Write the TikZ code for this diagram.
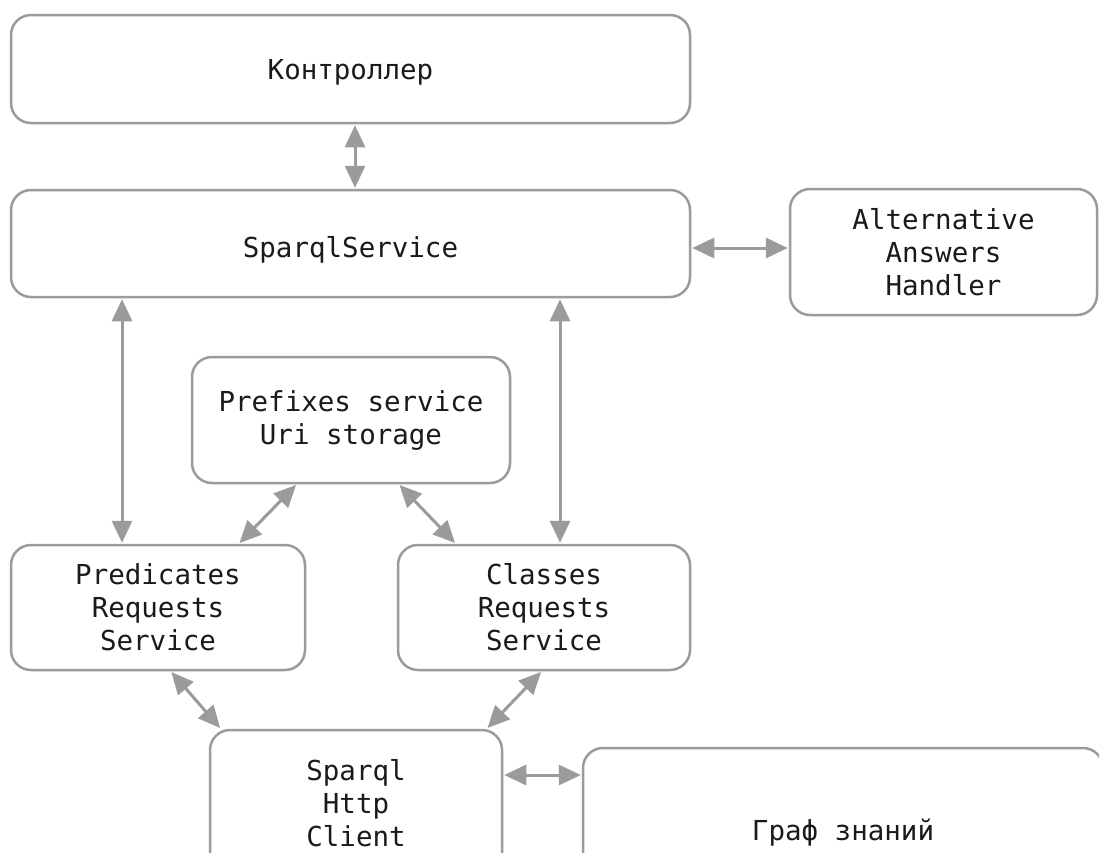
\documentclass[tikz,border=0pt]{standalone}
\usepackage{fontspec}
\setmonofont{DejaVu Sans Mono}
\usetikzlibrary{arrows.meta,calc}
\definecolor{linegray}{HTML}{9B9B9B}
\definecolor{txt}{HTML}{1A1A1A}
\tikzset{
  box/.style={draw=linegray, line width=2.5pt, rounded corners=20pt, fill=white,
    align=center, inner sep=0pt, text=txt,
    font=\ttfamily\fontsize{27.5}{33}\selectfont},
  link/.style={draw=linegray, line width=3pt,
    {Triangle[length=22pt,width=20pt]}-{Triangle[length=22pt,width=20pt]},
    shorten <=1pt, shorten >=1pt}
}
\begin{document}
\begin{tikzpicture}[x=1pt,y=-1pt]
\useasboundingbox (0,0) rectangle (1099,852);
\clip (0,0) rectangle (1099,852);
\fill[white] (0,0) rectangle (1099,852);

\node[box, minimum width=679pt, minimum height=108pt, text height=26pt, text depth=6pt] (ctrl) at (350.5,69) {Контроллер};
\node[box, minimum width=679pt, minimum height=107pt, text height=34pt, text depth=6pt] (ss) at (350.5,243.5) {SparqlService};
\node[box, minimum width=307pt, minimum height=126pt] (alt) at (943.5,252) {Alternative\\Answers\\Handler};
\node[box, minimum width=318pt, minimum height=126pt] (pref) at (351,420) {Prefixes service\\Uri storage};
\node[box, minimum width=294pt, minimum height=125pt] (pred) at (158,607.5) {Predicates\\Requests\\Service};
\node[box, minimum width=292pt, minimum height=125pt] (cls) at (544,607.5) {Classes\\Requests\\Service};
\node[box, minimum width=292pt, minimum height=146pt] (client) at (356,803) {Sparql\\Http\\Client};
\node[box, minimum width=520pt, minimum height=164pt, text height=26pt, text depth=6pt] (graf) at (843,830) {Граф знаний};

\coordinate (xa) at (355,0);
\coordinate (xb) at (122,0);
\coordinate (xc) at (560,0);
\coordinate (ye) at (0,248);
\coordinate (yd) at (0,775);

\draw[link] (ctrl.south -| xa) -- (ss.north -| xa);
\draw[link] (ss.east |- ye) -- (alt.west |- ye);
\draw[link] (ss.south -| xb) -- (pred.north -| xb);
\draw[link] (ss.south -| xc) -- (cls.north -| xc);
\draw[link] ($(pref.south west)+(106,0)$) -- ($(pred.north west)+(229,0)$);
\draw[link] ($(pref.south west)+(208,0)$) -- ($(cls.north west)+(59,0)$);
\draw[link] ($(pred.south west)+(161,0)$) -- ($(client.north west)+(12,0)$);
\draw[link] ($(cls.south west)+(145,0)$) -- ($(client.north west)+(278,0)$);
\draw[link] (client.east |- yd) -- (graf.west |- yd);
\end{tikzpicture}
\end{document}
